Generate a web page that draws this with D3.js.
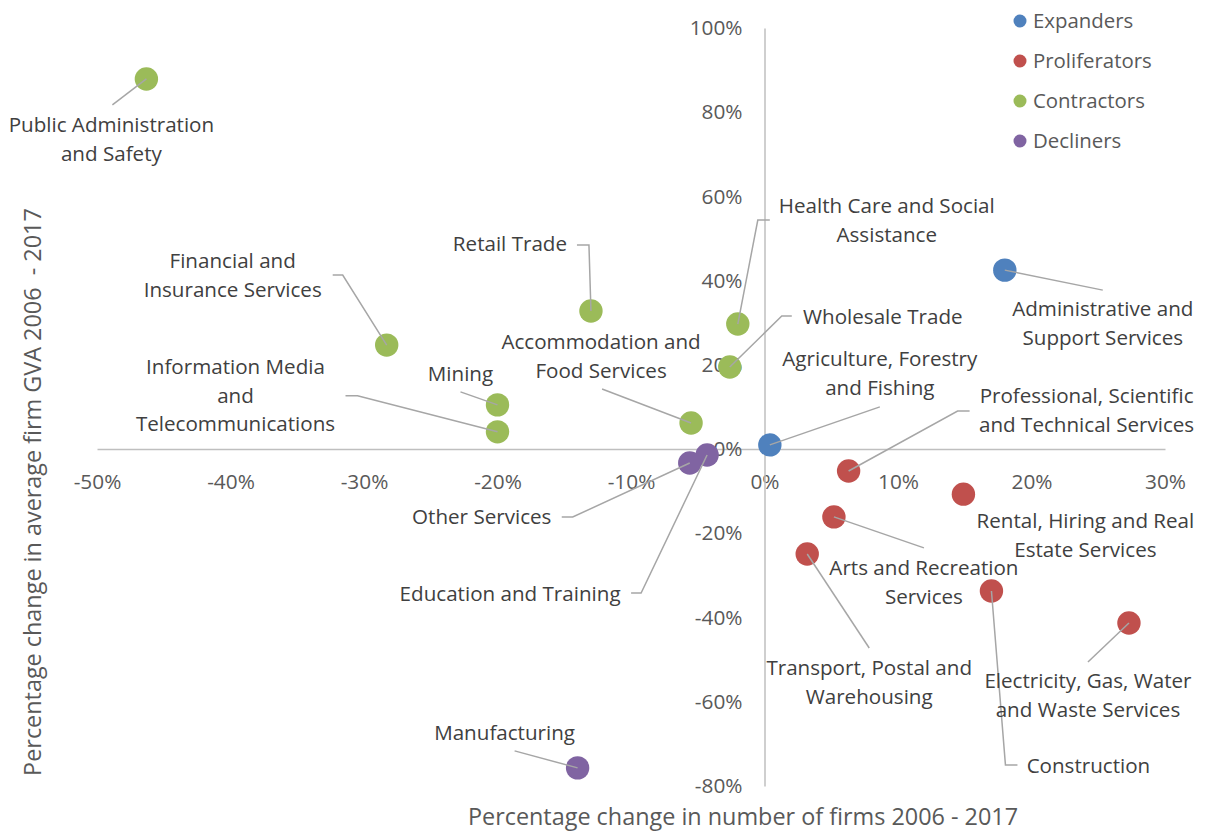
<!DOCTYPE html>
<html>
<head>
<meta charset="utf-8">
<script src="https://cdn.jsdelivr.net/npm/d3@7"></script>
<style>
	body { margin: 0; background: #fff; }
	text { font-family: "Open Sans", sans-serif; }
	.tick text { fill: #595959; font-size: 20.8px; }
	.label { fill: #404040; font-size: 20.6px; }
	.legendLabel { fill: #595959; font-size: 20.4px; }
	.axisTitle { fill: #595959; font-size: 23.4px; }
</style>
</head>
<body>
<div id="graphicContainer"></div>
<script>

// industries and their values (change in number of firms, change in average firm GVA)
var industries = [
	"Public Administration and Safety",
	"Financial and Insurance Services",
	"Retail Trade",
	"Health Care and Social Assistance",
	"Wholesale Trade",
	"Agriculture, Forestry and Fishing",
	"Professional, Scientific and Technical Services",
	"Administrative and Support Services",
	"Rental, Hiring and Real Estate Services",
	"Arts and Recreation Services",
	"Transport, Postal and Warehousing",
	"Construction",
	"Electricity, Gas, Water and Waste Services",
	"Manufacturing",
	"Education and Training",
	"Other Services",
	"Accommodation and Food Services",
	"Mining",
	"Information Media and Telecommunications"
]

var groups = [
	"Contractors", "Contractors", "Contractors", "Contractors", "Contractors",
	"Expanders", "Proliferators", "Expanders", "Proliferators", "Proliferators",
	"Proliferators", "Proliferators", "Proliferators", "Decliners", "Decliners",
	"Decliners", "Contractors", "Contractors", "Contractors"
]

var firmChange = [-0.463, -0.283, -0.130, -0.020, -0.026, 0.004, 0.063, 0.180, 0.149, 0.052,
	0.032, 0.170, 0.273, -0.140, -0.043, -0.056, -0.055, -0.200, -0.200]

var gvaChange = [0.879, 0.247, 0.328, 0.297, 0.195, 0.010, -0.052, 0.425, -0.107, -0.161,
	-0.249, -0.337, -0.413, -0.757, -0.014, -0.033, 0.062, 0.105, 0.041]

var legendNames = ["Expanders", "Proliferators", "Contractors", "Decliners"]

var xTickValues = [-0.5, -0.4, -0.3, -0.2, -0.1, 0, 0.1, 0.2, 0.3]
var yTickValues = [-0.8, -0.6, -0.4, -0.2, 0, 0.2, 0.4, 0.6, 0.8, 1.0]

// label layout: text lines, offset of first line from the point, leader bends
var labelLayout = {
	"Public Administration and Safety": { lines: ["Public Administration", "and Safety"], dx: -35, dy: 47, leader: [[-34, 26]] },
	"Financial and Insurance Services": { lines: ["Financial and", "Insurance Services"], dx: -154, dy: -83, leader: [[-44, -70], [-54, -70]] },
	"Retail Trade": { lines: ["Retail Trade"], dx: -81, dy: -66, leader: [[-2, -66], [-14, -66]] },
	"Health Care and Social Assistance": { lines: ["Health Care and Social", "Assistance"], dx: 149, dy: -117, leader: [[20, -104], [32, -104]] },
	"Wholesale Trade": { lines: ["Wholesale Trade"], dx: 153, dy: -49, leader: [[52, -51], [62, -51]] },
	"Agriculture, Forestry and Fishing": { lines: ["Agriculture, Forestry", "and Fishing"], dx: 110, dy: -85, leader: [[110, -38]] },
	"Professional, Scientific and Technical Services": { lines: ["Professional, Scientific", "and Technical Services"], dx: 238, dy: -74, leader: [[109, -60], [121, -60]] },
	"Administrative and Support Services": { lines: ["Administrative and", "Support Services"], dx: 98, dy: 40, leader: [[98, 20]] },
	"Rental, Hiring and Real Estate Services": { lines: ["Rental, Hiring and Real", "Estate Services"], dx: 122, dy: 28, leader: [] },
	"Arts and Recreation Services": { lines: ["Arts and Recreation", "Services"], dx: 90, dy: 52, leader: [[90, 31]] },
	"Transport, Postal and Warehousing": { lines: ["Transport, Postal and", "Warehousing"], dx: 62, dy: 115, leader: [[62, 94]] },
	"Construction": { lines: ["Construction"], dx: 97, dy: 176, leader: [[14, 174], [26, 174]] },
	"Electricity, Gas, Water and Waste Services": { lines: ["Electricity, Gas, Water", "and Waste Services"], dx: -41, dy: 59, leader: [[-41, 39]] },
	"Manufacturing": { lines: ["Manufacturing"], dx: -73, dy: -34, leader: [[-63, -17]] },
	"Education and Training": { lines: ["Education and Training"], dx: -197, dy: 140, leader: [[-66, 138], [-76, 138]] },
	"Other Services": { lines: ["Other Services"], dx: -208, dy: 55, leader: [[-117, 54], [-128, 54]] },
	"Accommodation and Food Services": { lines: ["Accommodation and", "Food Services"], dx: -90, dy: -80, leader: [[-89, -34]] },
	"Mining": { lines: ["Mining"], dx: -37, dy: -30, leader: [[-37, -13]] },
	"Information Media and Telecommunications": { lines: ["Information Media", "and", "Telecommunications"], dx: -262, dy: -64, leader: [[-140, -36], [-152, -36]] }
}

function init() {

	var width = 1205
	var height = 832
	var lineHeight = 28.7
	var textShift = -2

	var data = industries.map(function(d, i) {
		return { name: d, group: groups[i], x: firmChange[i], y: gvaChange[i] }
	})

	var colour = d3.scaleOrdinal()
		.domain(legendNames)
		.range(["#4F81BD", "#C0504D", "#9BBB59", "#8064A2"])

	var svg = d3.select("#graphicContainer").append("svg")
		.attr("width", width)
		.attr("height", height)

	var x = d3.scaleLinear()
		.domain([-0.5, 0.3])
		.range([97, 1165])

	var y = d3.scaleLinear()
		.domain([-0.8, 1.0])
		.range([786, 28])

	// excel style: plain hyphen for negatives
	var pct = d => d3.format(".0%")(d).replace("\u2212", "-")

	var xAxis = d3.axisBottom(x)
		.tickValues(xTickValues)
		.tickSize(0)
		.tickPadding(25)
		.tickFormat(pct)

	var yAxis = d3.axisLeft(y)
		.tickValues(yTickValues)
		.tickSize(0)
		.tickPadding(22)
		.tickFormat(pct)

	svg.append("g")
		.attr("class", "axis x")
		.attr("transform", "translate(0," + y(0) + ")")
		.call(xAxis)

	svg.append("g")
		.attr("class", "axis y")
		.attr("transform", "translate(" + x(0) + ",0)")
		.call(yAxis)

	svg.selectAll(".axis .domain")
		.attr("stroke", "#BFBFBF")
		.attr("stroke-width", 1.5)

	svg.selectAll(".axis text")
		.attr("font-family", null)
		.attr("font-size", null)

	// points
	svg.append("g").selectAll("circle")
		.data(data)
		.enter()
		.append("circle")
		.attr("cx", d => x(d.x))
		.attr("cy", d => y(d.y))
		.attr("r", 11.7)
		.attr("fill", d => colour(d.group))

	// leader lines
	svg.append("g").selectAll("polyline")
		.data(data.filter(d => labelLayout[d.name].leader.length > 0))
		.enter()
		.append("polyline")
		.attr("points", function(d) {
			var px = x(d.x), py = y(d.y)
			var pts = [[px, py]].concat(labelLayout[d.name].leader.map(p => [px + p[0], py + p[1]]))
			return pts.map(p => p.join(",")).join(" ")
		})
		.attr("fill", "none")
		.attr("stroke", "#A6A6A6")
		.attr("stroke-width", 1.5)

	// labels
	var labels = svg.append("g").selectAll("text")
		.data(data)
		.enter()
		.append("text")
		.attr("class", "label")
		.attr("text-anchor", "middle")
		.attr("dominant-baseline", "central")

	labels.each(function(d) {
		var lay = labelLayout[d.name]
		var t = d3.select(this)
		lay.lines.forEach(function(line, i) {
			t.append("tspan")
				.attr("x", x(d.x) + lay.dx)
				.attr("y", y(d.y) + lay.dy + i * lineHeight + textShift)
				.text(line)
		})
	})

	// legend
	var legend = svg.append("g").selectAll("g")
		.data(legendNames)
		.enter()
		.append("g")
		.attr("transform", (d, i) => "translate(1020," + (21 + i * 40) + ")")

	legend.append("circle")
		.attr("r", 6.5)
		.attr("fill", d => colour(d))

	legend.append("text")
		.attr("class", "legendLabel")
		.attr("x", 13)
		.attr("y", textShift + 1)
		.attr("dominant-baseline", "central")
		.text(d => d)

	// axis titles
	svg.append("text")
		.attr("class", "axisTitle")
		.attr("x", 743)
		.attr("y", 816)
		.attr("text-anchor", "middle")
		.attr("dominant-baseline", "central")
		.text("Percentage change in number of firms 2006 - 2017")

	svg.append("text")
		.attr("class", "axisTitle")
		.attr("transform", "translate(32,492) rotate(-90)")
		.attr("text-anchor", "middle")
		.attr("dominant-baseline", "central")
		.attr("xml:space", "preserve")
		.style("white-space", "pre")
		.text("Percentage change in average firm GVA 2006  - 2017")
}

init()

</script>
</body>
</html>
